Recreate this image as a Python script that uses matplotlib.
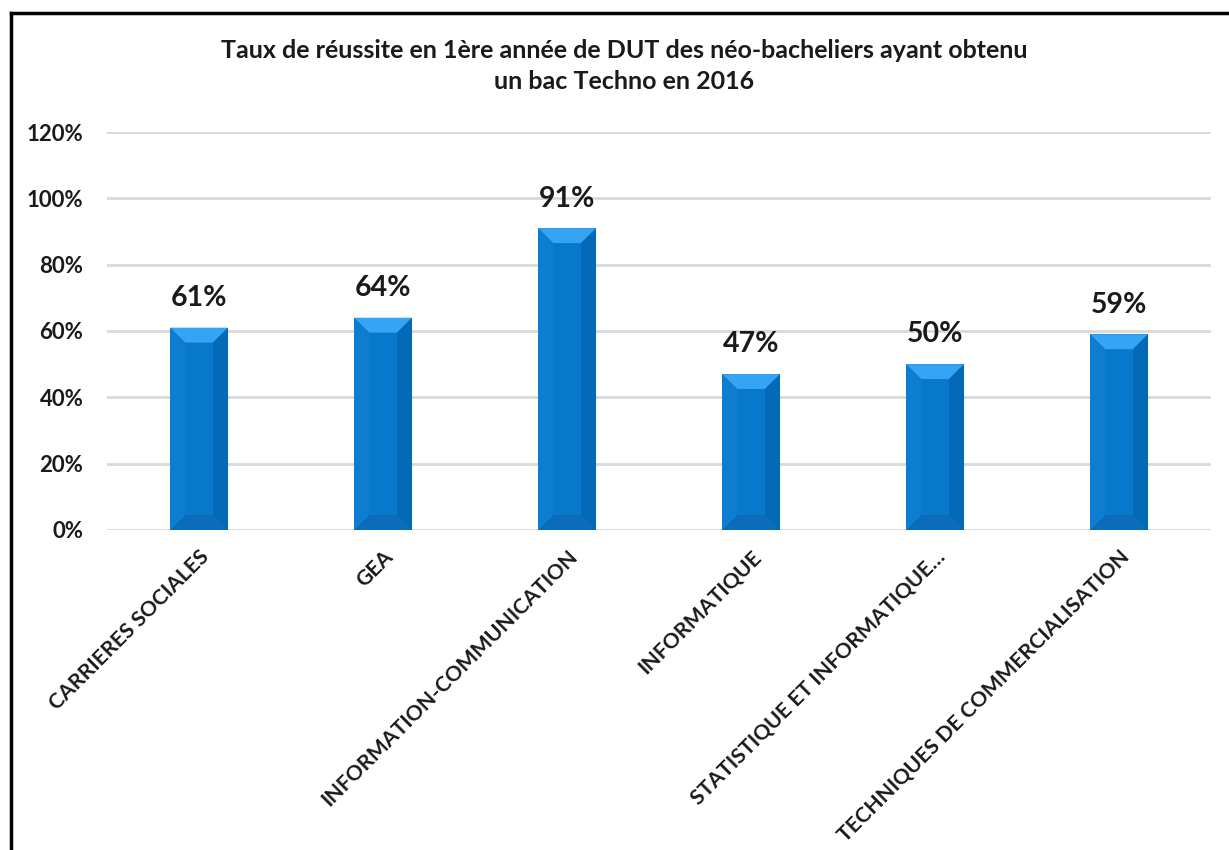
import numpy as np
import matplotlib
matplotlib.use('Agg')
import matplotlib.pyplot as plt
from matplotlib.patches import Polygon
from matplotlib.lines import Line2D

# Taux de réussite DUT - bac Techno 2016

categories = ['CARRIERES SOCIALES', 'GEA', 'INFORMATION-COMMUNICATION',
              'INFORMATIQUE', 'STATISTIQUE ET INFORMATIQUE…',
              'TECHNIQUES DE COMMERCIALISATION']
values = [0.61, 0.64, 0.91, 0.47, 0.50, 0.59]
labels = ['61%', '64%', '91%', '47%', '50%', '59%']
yticks = [0, 0.2, 0.4, 0.6, 0.8, 1.0, 1.2]
ytick_labels = ['0%', '20%', '40%', '60%', '80%', '100%', '120%']

plt.rcParams['font.family'] = ['Lato', 'DejaVu Sans']

fig = plt.figure(figsize=(12.29, 8.5), dpi=100)
ax = fig.add_axes([0.0871, 0.3765, 0.8983, 0.4682])

x = np.arange(len(values))
w = 0.315
dx = 0.082
dy = 0.045

bars = ax.bar(x, values, width=w, color='#0878cb', zorder=3)
for xi, h in zip(x, values):
    x0, x1 = xi - w / 2, xi + w / 2
    faces = [
        ([(x0, h), (x1, h), (x1 - dx, h - dy), (x0 + dx, h - dy)], '#36a4f5'),
        ([(x1, h), (x1, 0), (x1 - dx, dy), (x1 - dx, h - dy)], '#0469b7'),
        ([(x0, 0), (x1, 0), (x1 - dx, dy), (x0 + dx, dy)], '#0a6cbb'),
        ([(x0, h), (x0, 0), (x0 + dx, dy), (x0 + dx, h - dy)], '#0c7dd0'),
    ]
    for pts, c in faces:
        ax.add_patch(Polygon(pts, closed=True, facecolor=c, edgecolor='none', zorder=4))

for xi, h, lab in zip(x, values, labels):
    ax.annotate(lab, (xi, h), xytext=(0, 12), textcoords='offset points',
                ha='center', va='bottom', fontsize=20.5, fontweight='bold', color='#1a1a1a')

ax.set_xlim(-0.5, len(values) - 0.5)
ax.set_ylim(0, 1.2)
ax.set_yticks(yticks)
ax.set_yticklabels(ytick_labels, fontsize=16, fontweight='bold', color='#1a1a1a')
ax.set_xticks(x)
ax.set_xticklabels(categories, rotation=45, ha='right', rotation_mode='anchor',
                   fontsize=15.3, fontweight='bold', color='#1a1a1a')
ax.tick_params(axis='both', length=0)
ax.tick_params(axis='y', pad=17)
ax.tick_params(axis='x', pad=12)
ax.grid(axis='y', color='#d9d9d9', linewidth=2, zorder=0)
for s in ax.spines.values():
    s.set_visible(False)

fig.text(0.508, 0.922, 'Taux de réussite en 1ère année de DUT des néo-bacheliers ayant obtenu\nun bac Techno en 2016',
         ha='center', va='center', fontsize=18, fontweight='bold', color='#1a1a1a', linespacing=1.42)

# cadre
fig.add_artist(Line2D([11 / 1229, 11 / 1229], [0, 1 - 13 / 850], color='black', linewidth=2.5, transform=fig.transFigure))
fig.add_artist(Line2D([11 / 1229, 1], [1 - 13 / 850, 1 - 13 / 850], color='black', linewidth=2.5, transform=fig.transFigure))

plt.savefig('out.png', format='png')
